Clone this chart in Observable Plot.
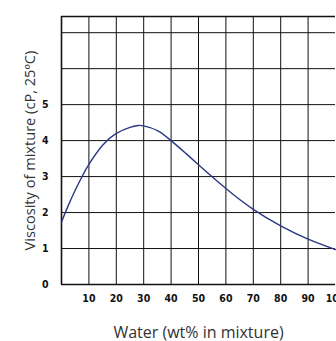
<!DOCTYPE html>
<html>
<head>
<meta charset="utf-8">
<script src="https://cdn.jsdelivr.net/npm/d3@7"></script>
<script src="https://cdn.jsdelivr.net/npm/@observablehq/plot@0.6"></script>
<style>
  html, body { margin: 0; padding: 0; background: #fff; }
  #chart svg { display: block; }
  .ticks text { font-family: "Liberation Sans Narrow", "DejaVu Sans Condensed", sans-serif; font-weight: bold; font-size: 10.5px; fill: #111; }
  .titles text { font-family: "Open Sans", "Noto Sans", sans-serif; font-size: 16px; fill: #333; }
  .titles.ytitle text { font-size: 14.6px; }
</style>
</head>
<body>
<div id="chart"></div>
<script>
// Viscosity of a water mixture at 25 °C versus water content
const waterPct = [0, 2.5, 5, 7.5, 10, 15, 20, 25, 28, 30, 35, 40, 45, 50, 60, 70, 80, 90, 100];
const viscosity = [1.74, 2.2, 2.62, 3.0, 3.34, 3.87, 4.2, 4.37, 4.42, 4.41, 4.28, 4.0, 3.67, 3.33, 2.67, 2.09, 1.63, 1.26, 0.97];

const xTicks = [10, 20, 30, 40, 50, 60, 70, 80, 90, 100];
const yTicks = [0, 1, 2, 3, 4, 5];
const yGrid = [0, 1, 2, 3, 4, 5, 6, 7];
const xGrid = [10, 20, 30, 40, 50, 60, 70, 80, 90];
const xDomain = [0, 100];
const yDomain = [0, 7.45];

const xTitle = "Water (wt% in mixture)";
const yTitle = "Viscosity of mixture (cP, 25ºC)";

const points = waterPct.map((w, i) => ({water: w, visc: viscosity[i]}));

const chart = Plot.plot({
  width: 336,
  height: 341,
  marginLeft: 61,
  marginRight: 1,
  marginTop: 16,
  marginBottom: 57,
  x: {domain: xDomain},
  y: {domain: yDomain},
  marks: [
    Plot.ruleY(yGrid, {stroke: "#111", strokeWidth: 1}),
    Plot.ruleX(xGrid, {stroke: "#111", strokeWidth: 1}),
    Plot.ruleY([yDomain[1]], {stroke: "#111", strokeWidth: 1.5}),
    Plot.ruleY([yDomain[0]], {stroke: "#111", strokeWidth: 1.6}),
    Plot.ruleX([xDomain[0]], {stroke: "#111", strokeWidth: 1.6}),
    Plot.line(points, {x: "water", y: "visc", curve: "natural", stroke: "#2c3786", strokeWidth: 1.4}),
    Plot.axisY(yTicks, {tickSize: 0, tickPadding: 13, label: null, className: "ticks"}),
    Plot.axisX(xTicks, {tickSize: 0, tickPadding: 10, label: null, className: "ticks"}),
    Plot.text([yTitle], {frameAnchor: "left", dx: -27, rotate: -90, textAnchor: "middle", lineAnchor: "bottom", className: "titles ytitle"}),
    Plot.text([xTitle], {frameAnchor: "bottom", dy: 53, textAnchor: "middle", lineAnchor: "bottom", className: "titles"})
  ]
});

document.getElementById("chart").append(chart);
</script>
</body>
</html>
